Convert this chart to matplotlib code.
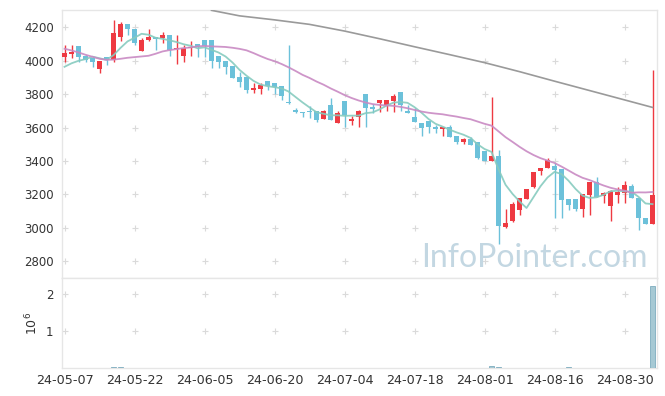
import numpy as np
import pandas as pd
import matplotlib.pyplot as plt

# trading days (KRX), 2024-05-07 .. 2024-09-05
holidays = pd.to_datetime(['2024-05-15', '2024-06-06', '2024-08-15'])
dates = pd.bdate_range('2024-05-07', '2024-09-05')
dates = dates[~dates.isin(holidays)]

open_ = np.array([
    4024, 4040, 4088, 4028, 4014, 3950, 4020, 4004, 4144, 4220,
    4188, 4060, 4124, 4142, 4134, 4154, 4068, 4028, 4074, 4100,
    4124, 4124, 4028, 3998, 3968, 3905, 3905, 3825, 3829, 3879,
    3865, 3849, 3755, 3705, 3693, 3699, 3699, 3649, 3735, 3629,
    3761, 3641, 3661, 3801, 3725, 3745, 3735, 3761, 3811, 3701,
    3661, 3629, 3641, 3605, 3591, 3605, 3552, 3516, 3530, 3516,
    3460, 3402, 3430, 3007, 3043, 3107, 3171, 3246, 3342, 3356,
    3370, 3350, 3173, 3173, 3113, 3197, 3276, 3193, 3133, 3197,
    3207, 3250, 3181, 3061, 3023])
high = np.array([
    4094, 4094, 4088, 4034, 4020, 4000, 4020, 4242, 4230, 4220,
    4188, 4134, 4188, 4144, 4174, 4154, 4154, 4094, 4120, 4100,
    4124, 4124, 4028, 3998, 3968, 3934, 3905, 3865, 3865, 3879,
    3865, 3849, 4094, 3715, 3693, 3729, 3699, 3705, 3775, 3701,
    3761, 3669, 3705, 3801, 3741, 3765, 3765, 3801, 3811, 3735,
    3715, 3629, 3641, 3615, 3605, 3615, 3552, 3540, 3546, 3516,
    3460, 3785, 3466, 3111, 3157, 3177, 3233, 3336, 3360, 3416,
    3386, 3350, 3173, 3173, 3203, 3276, 3306, 3215, 3225, 3243,
    3280, 3262, 3181, 3061, 3944])
low = np.array([
    3994, 4014, 3994, 3994, 3964, 3925, 3974, 3994, 4120, 4154,
    4096, 4058, 4120, 4064, 4104, 4028, 3980, 3994, 4028, 4024,
    4020, 3954, 3954, 3921, 3895, 3845, 3809, 3809, 3799, 3825,
    3799, 3765, 3741, 3685, 3661, 3655, 3635, 3649, 3645, 3625,
    3602, 3615, 3601, 3601, 3685, 3695, 3701, 3695, 3701, 3689,
    3633, 3547, 3567, 3565, 3547, 3545, 3502, 3502, 3496, 3410,
    3400, 3400, 2904, 2997, 3037, 3077, 3171, 3240, 3316, 3356,
    3057, 3059, 3107, 3100, 3065, 3077, 3186, 3151, 3043, 3149,
    3149, 3177, 2987, 3023, 3023])
close = np.array([
    4048, 4054, 4024, 4004, 3994, 4000, 4004, 4168, 4220, 4188,
    4108, 4124, 4140, 4130, 4154, 4064, 4074, 4074, 4084, 4080,
    4090, 4000, 3994, 3965, 3899, 3871, 3825, 3839, 3855, 3851,
    3841, 3789, 3745, 3691, 3689, 3691, 3645, 3699, 3645, 3689,
    3675, 3651, 3699, 3719, 3711, 3765, 3765, 3789, 3735, 3689,
    3635, 3599, 3601, 3591, 3605, 3545, 3516, 3530, 3496, 3416,
    3402, 3430, 3011, 3031, 3143, 3177, 3233, 3336, 3358, 3404,
    3346, 3167, 3137, 3113, 3203, 3276, 3186, 3211, 3221, 3217,
    3257, 3177, 3057, 3023, 3197])
volume = np.array([
    6000, 5000, 4000, 5000, 6000, 7000, 8000, 24000, 21000, 9000,
    7000, 6000, 5000, 4000, 5000, 6000, 5000, 4000, 5000, 4000,
    5000, 6000, 5000, 4000, 6000, 5000, 6000, 4000, 3000, 4000,
    5000, 6000, 9000, 5000, 3000, 4000, 5000, 4000, 6000, 5000,
    6000, 4000, 5000, 7000, 4000, 5000, 4000, 6000, 7000, 4000,
    5000, 6000, 5000, 4000, 5000, 6000, 5000, 4000, 5000, 8000,
    9000, 55000, 30000, 12000, 9000, 8000, 7000, 8000, 6000, 7000,
    9000, 12000, 20000, 6000, 7000, 6000, 5000, 4000, 6000, 5000,
    6000, 5000, 8000, 7000, 2200000])

ma5_head = [3964, 3985, 4000, 4010]
ma20_head = [4072, 4062, 4050, 4036, 4024, 4012, 4006, 4007, 4012, 4018,
             4022, 4026, 4030, 4042, 4056, 4064, 4070, 4076, 4080]
ma120_idx = [21, 25, 30, 35, 40, 45, 50, 55, 60, 65, 70, 75, 80, 84]
ma120_val = [4302, 4269, 4245, 4218, 4178, 4132, 4084, 4037, 3989, 3935,
             3878, 3822, 3766, 3721]

RED = '#ee3a42'
BLUE = '#6cc1da'
GRID = '#dadada'
SPINE = '#e6e6e6'

x = np.arange(len(close))
ma5 = pd.Series(close).rolling(5).mean().to_numpy()
ma5[:len(ma5_head)] = ma5_head
ma20 = pd.Series(close).rolling(20).mean().to_numpy()
ma20[:len(ma20_head)] = ma20_head

fig = plt.figure(figsize=(6.65, 3.96), dpi=100)
ax = fig.add_axes([62/665, 118/396, 595/665, 268/396])
axv = fig.add_axes([62/665, 28/396, 595/665, 90/396], sharex=ax)

# candles
colors = np.where(close >= open_, RED, BLUE)
ax.vlines(x, low, high, colors=colors, lw=1.0, zorder=3)
ax.bar(x, np.maximum(np.abs(close - open_), 5), bottom=np.minimum(open_, close),
       width=0.7, color=colors, lw=0, zorder=3)

ax.plot(x, ma5, color='#86cbbf', lw=1.3, alpha=0.9, zorder=4)
ax.plot(x, ma20, color='#c98ac3', lw=1.3, alpha=0.9, zorder=4)
ax.plot(ma120_idx, ma120_val, color='#9a9a9a', lw=1.2, zorder=4)

ax.text(0.985, 0.02, 'InfoPointer.com', transform=ax.transAxes, ha='right', va='bottom',
        fontsize=23, color='#c3d7e2', family=['Lato', 'DejaVu Sans'], zorder=2)

# volume
axv.bar(x, volume, width=0.75, color='#a6c9d4', edgecolor='#7eadbf', lw=0.6, zorder=3)

xt = list(range(0, len(x), 10))
yt = [2800, 3000, 3200, 3400, 3600, 3800, 4000, 4200]
vt = [1e6, 2e6]
gx, gy = np.meshgrid(xt, yt)
ax.plot(gx.ravel(), gy.ravel(), '+', color=GRID, ms=5, mew=0.8, zorder=1)
gx, gy = np.meshgrid(xt, vt)
axv.plot(gx.ravel(), gy.ravel(), '+', color=GRID, ms=5, mew=0.8, zorder=1)

ax.set_xlim(-0.36, 84.64)
ax.set_ylim(2700, 4304)
axv.set_ylim(0, 2.42e6)

ax.set_yticks(yt)
axv.set_yticks(vt)
axv.set_yticklabels(['1', '2'])
axv.set_xticks(xt)
axv.set_xticklabels([dates[i].strftime('%y-%m-%d') for i in xt])
axv.set_ylabel(r'$10^6$', fontsize=9, color='#333333', labelpad=4)

for a in (ax, axv):
    for s in a.spines.values():
        s.set_color(SPINE)
        s.set_linewidth(1.0)
    a.tick_params(length=0, labelsize=8.5, colors='#333333', pad=6)
ax.tick_params(labelbottom=False)
axv.tick_params(axis='x', labelsize=9.2, pad=4)

fig.savefig('out.png', dpi=100)
